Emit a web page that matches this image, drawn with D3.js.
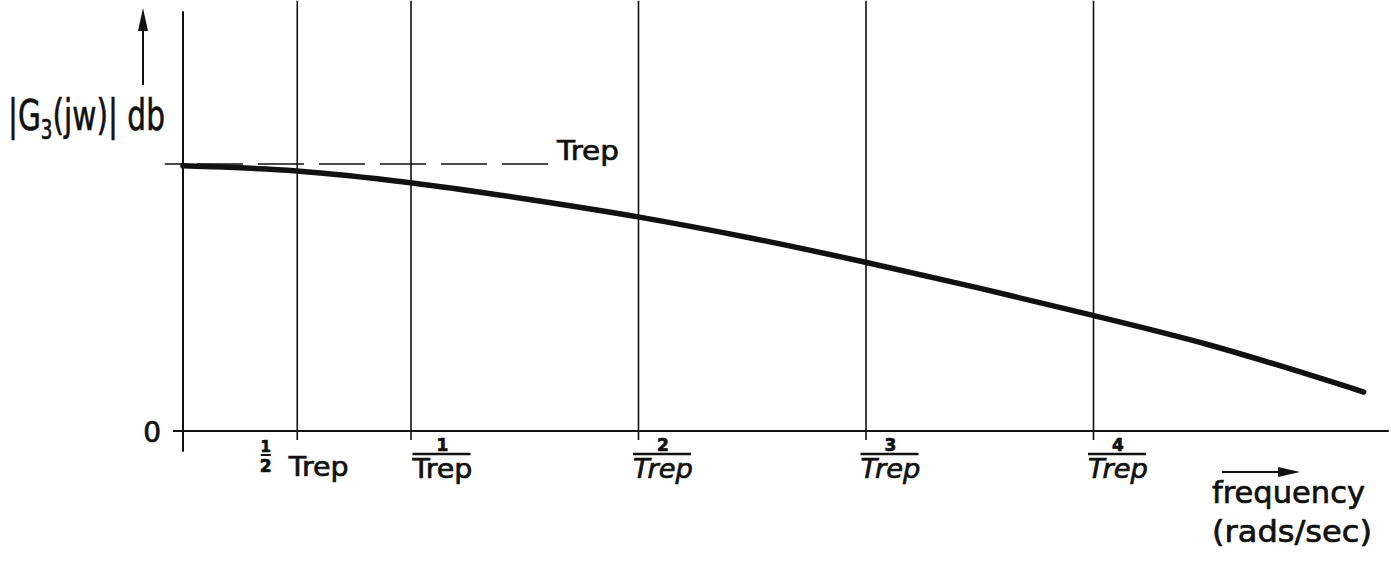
<!DOCTYPE html>
<html>
<head>
<meta charset="utf-8">
<script src="https://cdn.jsdelivr.net/npm/d3@7"></script>
<style>
  html, body { margin: 0; padding: 0; background: #fff; }
  svg { display: block; }
  text { font-family: "DejaVu Sans", sans-serif; fill: #111; stroke: #111; stroke-width: 0.7px; }
</style>
</head>
<body>
<svg id="chart" width="1391" height="566"></svg>
<script>
// ---- data ----
const freqTicks = [0.5, 1, 2, 3, 4];                 // in units of 1/Trep
const tickLabels = ["1/2 Trep", "1/Trep", "2/Trep", "3/Trep", "4/Trep"];
const tickItalic = [false, false, true, true, true];
const curveFreq = [0, 0.5, 1, 1.5, 2, 2.5, 3, 3.5, 4, 4.5, 5.19];
const curveDb   = [9.93, 9.74, 9.30, 8.70, 8.02, 7.22, 6.32, 5.35, 4.33, 3.25, 1.46];
const trepLevel = 10;
const yTicks = [0];
const yTickLabels = ["0"];

const svg = d3.select("#chart");
const x = d3.scaleLinear().domain([0, 4]).range([183, 1093]);
const y = d3.scaleLinear().domain([0, 10]).range([431, 164]);
const ink = "#111";

function squeeze(sel, target) {
  sel.each(function () {
    const w = this.getComputedTextLength();
    if (w > 0) {
      const anchorX = +this.getAttribute("x");
      const s = target / w;
      this.setAttribute("transform", `translate(${anchorX},0) scale(${s},1) translate(${-anchorX},0)`);
    }
  });
}

// ---- vertical grid lines via d3 axis ----
const xAxis = d3.axisBottom(x).tickValues(freqTicks).tickFormat("").tickSizeOuter(0);
const gx = svg.append("g").attr("transform", `translate(0,${y(0)})`).call(xAxis);
gx.select(".domain").remove();
gx.selectAll(".tick line")
  .attr("y1", y(15.7) - y(0) - 11)
  .attr("y2", 9)
  .attr("stroke", ink).attr("stroke-width", 1.6);

// x axis line
svg.append("line")
  .attr("x1", x(-0.044)).attr("x2", x(5.3))
  .attr("y1", y(0)).attr("y2", y(0))
  .attr("stroke", ink).attr("stroke-width", 2);

// y axis line
svg.append("line")
  .attr("x1", x(0)).attr("x2", x(0))
  .attr("y1", y(15.72)).attr("y2", y(-0.78))
  .attr("stroke", ink).attr("stroke-width", 2);

// y tick label
const yAxis = d3.axisLeft(y).tickValues(yTicks).tickFormat((d, i) => yTickLabels[i]).tickSize(0).tickPadding(0);
const gy = svg.append("g").attr("transform", `translate(${x(0)},0)`).call(yAxis);
gy.select(".domain").remove();
gy.selectAll(".tick text")
  .attr("x", -22)
  .attr("dy", "0.36em")
  .style("font-size", "28px")
  .style("font-family", "DejaVu Sans, sans-serif")
  .attr("fill", ink);

// ---- tick labels ----
freqTicks.forEach((f, i) => {
  const lab = tickLabels[i];
  const tx = x(f);
  const g = svg.append("g");
  if (lab.startsWith("1/2")) {
    const cx = tx - 31;
    g.append("text").attr("x", cx).attr("y", 452).attr("text-anchor", "middle")
      .style("font-size", "15px").style("font-weight", "bold").text("1");
    g.append("line").attr("x1", cx - 5).attr("x2", cx + 5).attr("y1", 455).attr("y2", 455)
      .attr("stroke", ink).attr("stroke-width", 2);
    g.append("text").attr("x", cx).attr("y", 472).attr("text-anchor", "middle")
      .style("font-size", "17px").style("font-weight", "bold").text("2");
    const t = g.append("text").attr("x", tx - 8).attr("y", 476)
      .style("font-size", "27px").text("Trep");
    squeeze(t, 60);
  } else {
    const [num, den] = lab.split("/");
    const left = f === 1 ? tx + 2 : tx - 5;
    const w = 58;
    g.append("text").attr("x", left + w / 2 + 1).attr("y", 451).attr("text-anchor", "middle")
      .style("font-size", "17px").style("font-weight", "bold").text(num);
    g.append("line").attr("x1", left).attr("x2", left + w).attr("y1", 454).attr("y2", 454)
      .attr("stroke", ink).attr("stroke-width", 2.5);
    const t = g.append("text").attr("x", left).attr("y", 478)
      .style("font-size", "27px").style("font-style", tickItalic[i] ? "italic" : "normal").text(den);
    squeeze(t, w + 2);
  }
});

// ---- Trep dashed reference line (drawn right-to-left so dashes align at the label) ----
svg.append("line")
  .attr("x1", 548).attr("x2", x(-0.08))
  .attr("y1", y(trepLevel)).attr("y2", y(trepLevel))
  .attr("stroke", ink).attr("stroke-width", 1.6)
  .attr("stroke-dasharray", "46,15");
const trepT = svg.append("text").attr("x", 557).attr("y", y(trepLevel) - 4)
  .style("font-size", "27px").text("Trep");
squeeze(trepT, 62);

// ---- main curve ----
const pts = curveFreq.map((f, i) => [f, curveDb[i]]);
svg.append("path")
  .datum(pts)
  .attr("fill", "none")
  .attr("stroke", ink)
  .attr("stroke-width", 5.5)
  .attr("stroke-linecap", "round")
  .attr("d", d3.line().x(d => x(d[0])).y(d => y(d[1])).curve(d3.curveMonotoneX));

// ---- axis titles and arrows ----
svg.append("line").attr("x1", 143).attr("x2", 143).attr("y1", 85).attr("y2", 26)
  .attr("stroke", ink).attr("stroke-width", 2);
svg.append("path").attr("d", "M143,8 L138,31 L148,31 Z").attr("fill", ink);

const yl = svg.append("text").attr("x", 8).attr("y", 130).style("font-size", "42px");
yl.append("tspan").text("|G");
yl.append("tspan").attr("dy", 9).style("font-size", "26px").text("3");
yl.append("tspan").attr("dy", -9).text("(jw)| db");
squeeze(yl, 157);

svg.append("line").attr("x1", 1222).attr("x2", 1285).attr("y1", 472).attr("y2", 472)
  .attr("stroke", ink).attr("stroke-width", 2);
svg.append("path").attr("d", "M1300,472 L1278,467 L1278,477 Z").attr("fill", ink);

const f1 = svg.append("text").attr("x", 1212).attr("y", 503).style("font-size", "30px").text("frequency");
squeeze(f1, 153);
const f2 = svg.append("text").attr("x", 1212).attr("y", 542).style("font-size", "30px").text("(rads/sec)");
squeeze(f2, 160);
</script>
</body>
</html>
